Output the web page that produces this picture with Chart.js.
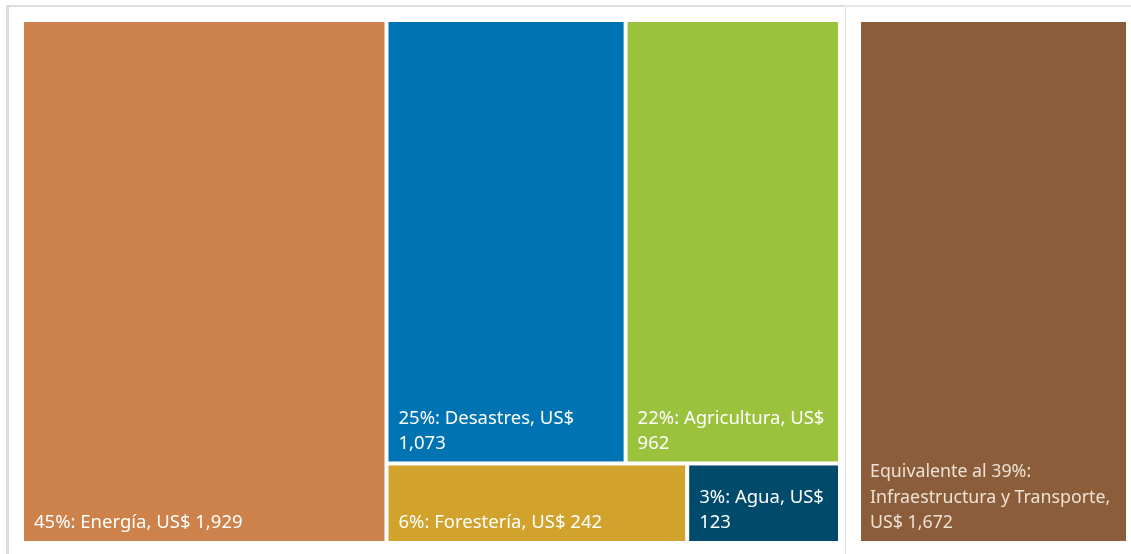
<!DOCTYPE html>
<html>
<head>
<meta charset="utf-8">
<script src="https://cdn.jsdelivr.net/npm/chart.js@4.4.0/dist/chart.umd.min.js"></script>
<style>
    body { margin: 0; background: #ffffff; }
    #wrap { position: relative; width: 1131px; height: 554px; overflow: hidden; }
    #frame-left { position: absolute; left: 6px; top: 5px; width: 836px; height: 560px;
        border-left: 3px solid #dcdcdc; border-top: 2px solid #dcdcdc; border-right: 1px solid #e4e4e4; }
    #frame-right { position: absolute; left: 843px; top: 5px; width: 300px; height: 2px; background: #e6e6e6; }
    #box-left { position: absolute; left: 0; top: 0; width: 843px; height: 554px; }
    #box-right { position: absolute; left: 843px; top: 0; width: 288px; height: 554px; }
</style>
</head>
<body>
<div id="wrap">
    <div id="frame-left"></div>
    <div id="frame-right"></div>
    <div id="box-left"><canvas id="chart-left"></canvas></div>
    <div id="box-right"><canvas id="chart-right"></canvas></div>
</div>
<script>
//------------------------------------------------------------- DATA -----------------------------------------------------------------
const sectors = ['Energía', 'Desastres', 'Agricultura', 'Forestería', 'Agua'];
const amounts = [1929, 1073, 962, 242, 123];
const percents = [45, 25, 22, 6, 3];
const sectorColors = ['#CC824A', '#0074B3', '#9BC23C', '#D1A22C', '#004B6B'];
// grouping of the treemap (indices into sectors): Energía | [[Desastres, Agricultura], [Forestería, Agua]]
const groups = [0, [[1, 2], [3, 4]]];

const infraLabel = ['Equivalente al 39%:', 'Infraestructura y Transporte,'];
const infraAmount = [1672];
const infraColor = ['#8B5D3B'];

//---------------------------------------------------------- helpers ----------------------------------------------------------------
function fmt(v) {
    return v.toLocaleString('en-US');
}

function sumOf(node, values) {
    if (typeof node === 'number') return values[node];
    return node.reduce((s, n) => s + sumOf(n, values), 0);
}

// slice and dice: level 0 splits along x, level 1 along y, ... (unit square 0..1)
function layout(node, values, x0, y0, x1, y1, depth, out) {
    if (typeof node === 'number') {
        out[node] = { x0: x0, y0: y0, x1: x1, y1: y1 };
        return;
    }
    const total = sumOf(node, values);
    let pos = depth % 2 === 0 ? x0 : y0;
    node.forEach(n => {
        const part = sumOf(n, values) / total;
        if (depth % 2 === 0) {
            const w = (x1 - x0) * part;
            layout(n, values, pos, y0, pos + w, y1, depth + 1, out);
            pos += w;
        } else {
            const h = (y1 - y0) * part;
            layout(n, values, x0, pos, x1, pos + h, depth + 1, out);
            pos += h;
        }
    });
}

function wrapText(ctx, text, maxW) {
    const words = text.split(' ');
    const lines = [];
    let line = '';
    words.forEach(w => {
        const test = line ? line + ' ' + w : w;
        if (ctx.measureText(test).width > maxW && line) {
            lines.push(line);
            line = w;
        } else {
            line = test;
        }
    });
    if (line) lines.push(line);
    return lines;
}

// plugin drawing the cells through the x / y scales of the chart
const treemapCells = {
    id: 'treemapCells',
    afterDatasetsDraw(chart, args, opts) {
        const ctx = chart.ctx;
        const xs = chart.scales.x, ys = chart.scales.y;
        const rects = [];
        layout(opts.groups, opts.values, 0, 0, 1, 1, 0, rects);
        const gap = 2;
        ctx.save();
        rects.forEach((r, i) => {
            const left = xs.getPixelForValue(r.x0) + gap;
            const right = xs.getPixelForValue(r.x1) - gap;
            const top = ys.getPixelForValue(r.y0) + gap;
            const bottom = ys.getPixelForValue(r.y1) - gap;
            ctx.fillStyle = opts.colors[i];
            ctx.fillRect(left, top, right - left, bottom - top);

            ctx.font = opts.font;
            ctx.fillStyle = opts.textColor;
            ctx.textBaseline = 'middle';
            ctx.textAlign = 'left';
            const maxW = right - left - 2 * opts.pad + 3;
            const lines = opts.labels(i).reduce((all, t) => all.concat(wrapText(ctx, t, maxW)), []);
            lines.forEach((t, k) => {
                const y = bottom - opts.bottomOff - (lines.length - 1 - k) * opts.lineH;
                ctx.fillText(t, left + opts.pad, y);
            });
        });
        ctx.restore();
    }
};

function makeChart(id, padding, plugOpts) {
    return new Chart(document.getElementById(id).getContext('2d'), {
        type: 'scatter',
        data: { datasets: [{ data: [] }] },
        options: {
            responsive: true,
            maintainAspectRatio: false,
            animation: false,
            layout: { padding: padding },
            plugins: { legend: { display: false }, tooltip: { enabled: false }, treemapCells: plugOpts },
            scales: {
                x: { type: 'linear', min: 0, max: 1, display: false },
                y: { type: 'linear', min: 0, max: 1, reverse: true, display: false }
            }
        },
        plugins: [treemapCells]
    });
}

//---------------------------------------------------------- charts -----------------------------------------------------------------
var chart_left = makeChart('chart-left', { left: 22, right: 3, top: 20, bottom: 11 }, {
    groups: groups,
    values: amounts,
    colors: sectorColors,
    textColor: '#ffffff',
    font: '18.5px "Noto Sans"',
    pad: 10,
    bottomOff: 18,
    lineH: 25,
    labels: i => [percents[i] + '%: ' + sectors[i] + ', US$ ' + fmt(amounts[i])]
});

var chart_right = makeChart('chart-right', { left: 16, right: 3, top: 20, bottom: 11 }, {
    groups: [0],
    values: infraAmount,
    colors: infraColor,
    textColor: '#eee2d4',
    font: '17.8px "Noto Sans"',
    pad: 9,
    bottomOff: 18,
    lineH: 25.5,
    labels: i => [infraLabel[0], infraLabel[1], 'US$ ' + fmt(infraAmount[i])]
});
</script>
</body>
</html>
